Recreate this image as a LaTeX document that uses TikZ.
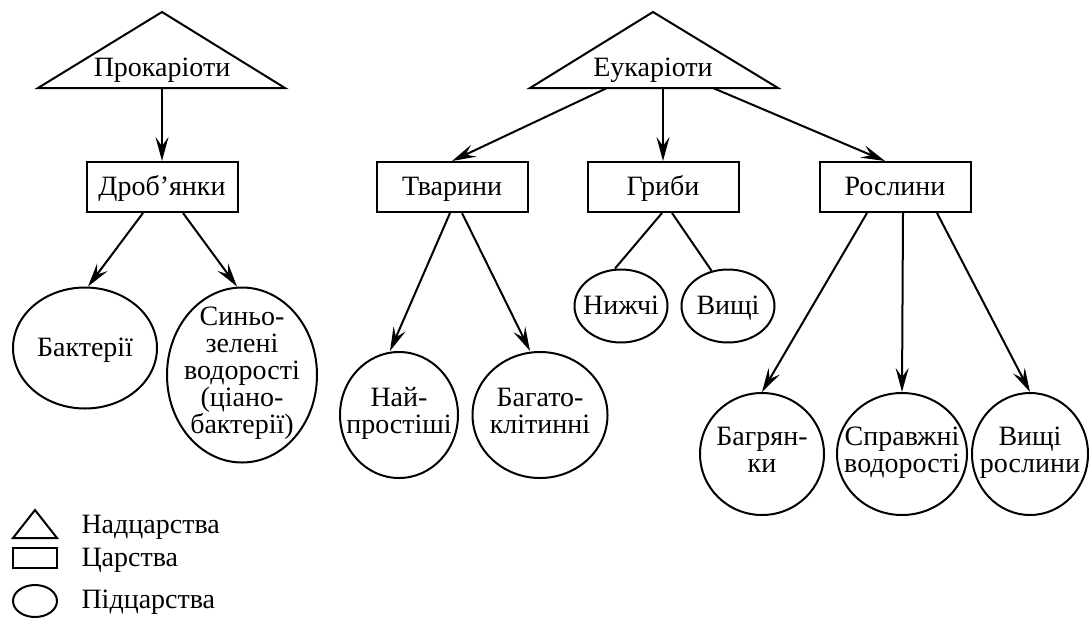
\documentclass[tikz,border=0pt]{standalone}
\usepackage{fontspec}
\setmainfont{Liberation Serif}
\usetikzlibrary{shapes.geometric,arrows.meta}
\begin{document}
\begin{tikzpicture}[
        x=1pt, y=-1pt,
        every node/.style={font=\fontsize{28}{27}\selectfont, align=center,
            execute at begin node=\rule{0pt}{25pt}, execute at end node=\rule[-9pt]{0pt}{9pt}},
        kingdom/.style={rectangle,draw,line width=2pt,minimum width=151pt,minimum height=50pt,inner sep=0pt},
        sub/.style={ellipse,draw,line width=2pt,inner sep=0pt},
        super/.style={draw,line width=2pt,line join=miter},
        arr/.style={-{Stealth[length=24pt,width=13pt,inset=9pt]},line width=2pt},
        link/.style={line width=2pt}
    ]
    \useasboundingbox (0,0) rectangle (1089,627);

    \draw[super] (38,88) -- (162,12) -- (285,88) -- cycle;
    \node (prok) at (162,68) {Прокаріоти};
    \coordinate (prokb) at (162,88);

    \draw[super] (530,88) -- (653,12) -- (778,88) -- cycle;
    \node (euk) at (653,68) {Еукаріоти};
    \coordinate (euk1) at (607,88);
    \coordinate (euk2) at (663,88);
    \coordinate (euk3) at (713,88);

    \node[kingdom] (drob) at (162,187) {Дроб’янки};
    \node[kingdom] (tvar) at (452,187) {Тварини};
    \node[kingdom] (hryby) at (663,187) {Гриби};
    \node[kingdom] (rosl) at (895,187) {Рослини};

    \node[sub,minimum width=144pt,minimum height=121pt,label={center:Бактерії}] (bakt) at (85,348) {};
    \node[sub,minimum width=150pt,minimum height=175pt,label={center:Синьо-\\зелені\\водорості\\(ціано-\\бактерії)}] (syno) at (242,375) {};
    \node[sub,minimum width=118pt,minimum height=126pt,label={center:Най-\\простіші}] (najp) at (399,415) {};
    \node[sub,minimum width=135pt,minimum height=126pt,label={center:Багато-\\клітинні}] (bahat) at (540,415) {};
    \node[sub,minimum width=93pt,minimum height=73pt,label={center:Нижчі}] (nyzh) at (621,306) {};
    \node[sub,minimum width=93pt,minimum height=73pt,label={center:Вищі}] (vysh) at (728,306) {};
    \node[sub,minimum width=124pt,minimum height=122pt,label={center:Багрян-\\ки}] (bahr) at (762,454) {};
    \node[sub,minimum width=130pt,minimum height=122pt,label={center:Справжні\\водорості}] (sprav) at (902,454) {};
    \node[sub,minimum width=116pt,minimum height=122pt,label={center:Вищі\\рослини}] (vyros) at (1030,454) {};

    \draw[arr] (prokb) -- (drob.north);
    \draw[arr] (euk1) -- (tvar.north);
    \draw[arr] (euk2) -- (hryby.north);
    \draw[arr] (euk3) -- ([xshift=-10pt]rosl.north);

    \draw[arr] ([xshift=-19pt]drob.south) -- ([xshift=3pt]bakt.north);
    \draw[arr] ([xshift=21pt]drob.south) -- ([xshift=-5pt]syno.north);
    \draw[arr] ([xshift=-2pt]tvar.south) -- ([xshift=-9pt]najp.north);
    \draw[arr] ([xshift=10pt]tvar.south) -- ([xshift=-10pt]bahat.north);
    \draw[link] ([xshift=-1pt]hryby.south) -- ([xshift=-6pt]nyzh.north);
    \draw[link] ([xshift=9pt]hryby.south) -- (vysh.115);
    \draw[arr] ([xshift=-28pt]rosl.south) -- (bahr.north);
    \draw[arr] ([xshift=8pt]rosl.south) -- (sprav.north);
    \draw[arr] ([xshift=42pt]rosl.south) -- (vyros.north);

    \draw[super] (13,538) -- (35,510) -- (57,538) -- cycle;
    \draw[link] (13,548) rectangle (57,568);
    \draw[link] (35,601) ellipse (22 and 16);
    \node[anchor=west] (lsuper) at (78,525) {Надцарства};
    \node[anchor=west] (lking) at (78,558) {Царства};
    \node[anchor=west] (lsub) at (78,600) {Підцарства};
\end{tikzpicture}
\end{document}
